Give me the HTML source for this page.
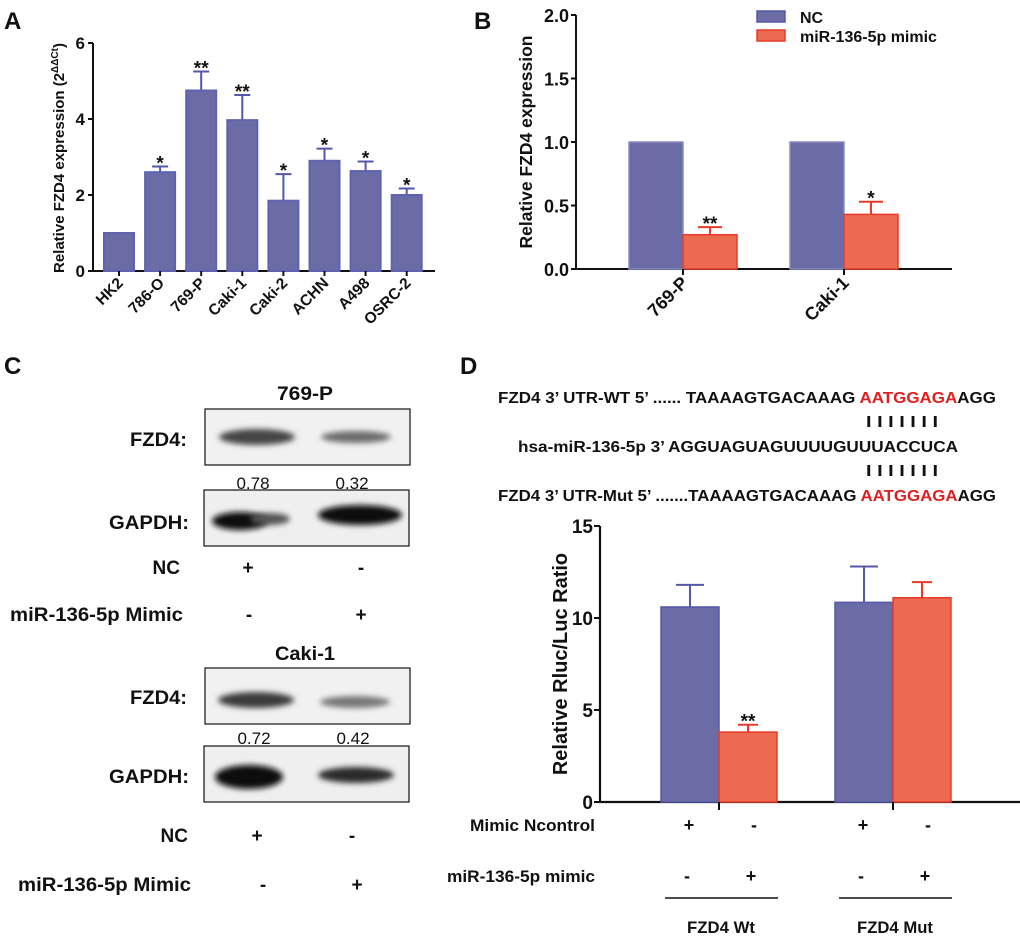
<!DOCTYPE html>
<html><head><meta charset="utf-8"><style>
html,body{margin:0;padding:0;background:#fff;}
svg{display:block;font-family:"Liberation Sans",Arial,sans-serif;}
text{font-weight:bold;fill:#111;}
</style></head><body>
<svg id="fig" width="1020" height="938" viewBox="0 0 1020 938" xmlns="http://www.w3.org/2000/svg">
<defs>
<filter id="blur" x="-50%" y="-100%" width="200%" height="300%"><feGaussianBlur stdDeviation="3"/></filter>
</defs>
<text x="4" y="29" font-size="24">A</text>
<text x="474" y="29" font-size="24">B</text>
<text x="4" y="374" font-size="24">C</text>
<text x="460" y="374" font-size="24">D</text>

<g id="panelA"></g>
<g id="panelB"></g>
<g id="panelD"></g>

<g>
<text x="305" y="400" font-size="19" text-anchor="middle" textLength="56" lengthAdjust="spacingAndGlyphs">769-P</text>
<text x="187" y="446" font-size="19" text-anchor="end" textLength="57" lengthAdjust="spacingAndGlyphs">FZD4:</text>
<rect x="205" y="409" width="205" height="56" fill="#f1f1f1" stroke="#111" stroke-width="1.2"/>
<ellipse cx="257" cy="437" rx="38" ry="8" fill="#444" filter="url(#blur)"/>
<ellipse cx="356" cy="437" rx="35" ry="6" fill="#6a6a6a" filter="url(#blur)"/>
<text x="253" y="489" font-size="17" text-anchor="middle" style="font-weight:normal">0.78</text>
<text x="352" y="489" font-size="17" text-anchor="middle" style="font-weight:normal">0.32</text>
<text x="189" y="529" font-size="19" text-anchor="end" textLength="80" lengthAdjust="spacingAndGlyphs">GAPDH:</text>
<rect x="204" y="490" width="205" height="56" fill="#efefef" stroke="#111" stroke-width="1.2"/>
<ellipse cx="240" cy="521" rx="28" ry="9" fill="#111" filter="url(#blur)"/>
<ellipse cx="270" cy="519" rx="20" ry="6" fill="#555" filter="url(#blur)"/>
<ellipse cx="360" cy="515" rx="42" ry="10" fill="#0a0a0a" filter="url(#blur)"/>
<text x="180" y="574" font-size="19" text-anchor="end">NC</text>
<text x="248" y="574" font-size="19" text-anchor="middle">+</text>
<text x="361" y="574" font-size="19" text-anchor="middle">-</text>
<text x="183" y="621" font-size="19" text-anchor="end" textLength="173" lengthAdjust="spacingAndGlyphs">miR-136-5p Mimic</text>
<text x="249" y="621" font-size="19" text-anchor="middle">-</text>
<text x="361" y="621" font-size="19" text-anchor="middle">+</text>

<text x="305" y="660" font-size="19" text-anchor="middle" textLength="60" lengthAdjust="spacingAndGlyphs">Caki-1</text>
<text x="187" y="704" font-size="19" text-anchor="end" textLength="57" lengthAdjust="spacingAndGlyphs">FZD4:</text>
<rect x="205" y="668" width="205" height="56" fill="#f1f1f1" stroke="#111" stroke-width="1.2"/>
<ellipse cx="256" cy="700" rx="38" ry="8" fill="#3a3a3a" filter="url(#blur)"/>
<ellipse cx="355" cy="702" rx="35" ry="6" fill="#777" filter="url(#blur)"/>
<text x="254" y="744" font-size="17" text-anchor="middle" style="font-weight:normal">0.72</text>
<text x="353" y="744" font-size="17" text-anchor="middle" style="font-weight:normal">0.42</text>
<text x="189" y="783" font-size="19" text-anchor="end" textLength="80" lengthAdjust="spacingAndGlyphs">GAPDH:</text>
<rect x="204" y="746" width="205" height="56" fill="#efefef" stroke="#111" stroke-width="1.2"/>
<ellipse cx="249" cy="777" rx="34" ry="12" fill="#0c0c0c" filter="url(#blur)"/>
<ellipse cx="356" cy="775" rx="38" ry="8" fill="#2a2a2a" filter="url(#blur)"/>
<text x="188" y="842" font-size="19" text-anchor="end">NC</text>
<text x="257" y="842" font-size="19" text-anchor="middle">+</text>
<text x="352" y="842" font-size="19" text-anchor="middle">-</text>
<text x="191" y="891" font-size="19" text-anchor="end" textLength="173" lengthAdjust="spacingAndGlyphs">miR-136-5p Mimic</text>
<text x="263" y="891" font-size="19" text-anchor="middle">-</text>
<text x="357" y="891" font-size="19" text-anchor="middle">+</text>
</g>

<g font-size="16">
<text x="498" y="403" textLength="498" lengthAdjust="spacingAndGlyphs">FZD4   3’ UTR-WT  5’ ...... TAAAAGTGACAAAG <tspan style="fill:#e02020">AATGGAGA</tspan>AGG</text>
<text x="866" y="427" font-size="16" textLength="72" lengthAdjust="spacingAndGlyphs">I I  I  I I  I I</text>
<text x="518" y="452" textLength="440" lengthAdjust="spacingAndGlyphs">hsa-miR-136-5p  3’    AGGUAGUAGUUUUGUUUACCUCA</text>
<text x="866" y="476" font-size="16" textLength="72" lengthAdjust="spacingAndGlyphs">I I  I  I I  I I</text>
<text x="498" y="501" textLength="498" lengthAdjust="spacingAndGlyphs">FZD4   3’ UTR-Mut 5’ .......TAAAAGTGACAAAG <tspan style="fill:#e02020">AATGGAGA</tspan>AGG</text>
</g>
</svg>
<script>
const catsA = ["HK2","786-O","769-P","Caki-1","Caki-2","ACHN","A498","OSRC-2"];
const valsA = [1.0, 2.6, 4.75, 3.97, 1.85, 2.9, 2.63, 2.0];
const errsA = [0, 0.15, 0.5, 0.66, 0.7, 0.32, 0.25, 0.17];
const sigA = ["", "*", "**", "**", "*", "*", "*", "*"];
const ticksA = [0, 2, 4, 6];
const catsB = ["769-P","Caki-1"];
const ncB = [1.0, 1.0];
const mimicB = [0.27, 0.43];
const mimicErrB = [0.06, 0.1];
const sigB = ["**","*"];
const ticksB = ["0.0","0.5","1.0","1.5","2.0"];
const groupsD = ["FZD4 Wt","FZD4 Mut"];
const ncD = [10.6, 10.85];
const ncErrD = [1.2, 1.95];
const mimicD = [3.8, 11.1];
const mimicErrD = [0.4, 0.85];
const sigD = ["**",""];
const ticksD = [0, 5, 10, 15];

const NS = "http://www.w3.org/2000/svg";
const BLUE = "#6b6ca6", BLUE_S = "#5558a8", RED = "#ec6a50", RED_S = "#e63b2a";
function mk(parent, tag, attrs, txt) {
  const e = document.createElementNS(NS, tag);
  for (const k in attrs) e.setAttribute(k, attrs[k]);
  if (txt !== undefined) e.textContent = txt;
  parent.appendChild(e);
  return e;
}
function errBar(g, cx, yTop, yErr, color, hw) {
  const l = mk(g, "path", {d: `M${cx},${yTop} V${yErr} M${cx-hw},${yErr} H${cx+hw}`, stroke: color, "stroke-width": 2, fill: "none"});
  
  
}

(function(){
  const g = document.getElementById("panelA");
  const x0 = 93, y0 = 271, yTop = 43, xEnd = 435, maxV = 6;
  const yA = v => y0 - (v / maxV) * (y0 - yTop);
  const step = 41.1, first = 119, bw = 30;
  const xA = i => first + i * step;
  mk(g, "path", {d: `M${x0},${yTop} V${y0} H${xEnd}`, stroke: "#111", "stroke-width": 2, fill: "none"});
  ticksA.forEach(t => {
    mk(g, "line", {x1: x0-5, x2: x0, y1: yA(t), y2: yA(t), stroke: "#111", "stroke-width": 2});
    const tl = mk(g, "text", {x: x0-8, y: yA(t)+6, "font-size": 17, "text-anchor": "end"}, t);
    
    
  });
  const yt = mk(g, "text", {x: 0, y: 0, "font-size": 15, "text-anchor": "middle", transform: "translate(64,158) rotate(-90)"});
  yt.innerHTML = 'Relative FZD4 expression (2<tspan dy="-6" font-size="10">ΔΔCt</tspan><tspan dy="6">)</tspan>';
  
  
  catsA.forEach((c, i) => {
    const cx = xA(i);
    if (errsA[i] > 0) errBar(g, cx, yA(valsA[i]), yA(valsA[i] + errsA[i]), BLUE_S, 8);
    const r = mk(g, "rect", {x: cx - bw/2, y: yA(valsA[i]), width: bw, height: y0 - yA(valsA[i]), fill: BLUE, stroke: "#5f62b0", "stroke-width": 2});
    
    
    mk(g, "line", {x1: cx, x2: cx, y1: y0, y2: y0+5, stroke: "#111", "stroke-width": 2});
    if (sigA[i]) {
      const s = mk(g, "text", {x: cx, y: yA(valsA[i] + errsA[i]) + 3, "font-size": 19, "text-anchor": "middle"}, sigA[i]);
      
      
    }
    const lab = mk(g, "text", {x: 0, y: 0, "font-size": 15.5, "text-anchor": "end", transform: `translate(${cx+5},${y0+13}) rotate(-45)`}, c);
    
    
  });
})();

(function(){
  const g = document.getElementById("panelB");
  const x0 = 576, y0 = 269, yTop = 15, xEnd = 952, maxV = 2;
  const yB = v => y0 - (v / maxV) * (y0 - yTop);
  const centers = [683, 844], bw = 54;
  mk(g, "path", {d: `M${x0},${yTop} V${y0} H${xEnd}`, stroke: "#111", "stroke-width": 2, fill: "none"});
  ticksB.forEach(t => {
    const v = parseFloat(t);
    mk(g, "line", {x1: x0-5, x2: x0, y1: yB(v), y2: yB(v), stroke: "#111", "stroke-width": 2});
    const tl = mk(g, "text", {x: x0-7, y: yB(v)+7, "font-size": 18, "text-anchor": "end"}, t);
    
    
  });
  const yt = mk(g, "text", {x: 0, y: 0, "font-size": 17.5, "text-anchor": "middle", transform: "translate(532,142) rotate(-90)"}, "Relative FZD4 expression");
  
  
  catsB.forEach((c, i) => {
    const cx = centers[i];
    const r1 = mk(g, "rect", {x: cx - bw, y: yB(ncB[i]), width: bw, height: y0 - yB(ncB[i]), fill: BLUE, stroke: "#8a8cc0", "stroke-width": 1.5});
    
    
    errBar(g, cx + bw/2, yB(mimicB[i]), yB(mimicB[i] + mimicErrB[i]), RED_S, 12);
    const r2 = mk(g, "rect", {x: cx, y: yB(mimicB[i]), width: bw, height: y0 - yB(mimicB[i]), fill: RED, stroke: RED_S, "stroke-width": 1.5});
    
    
    const s = mk(g, "text", {x: cx + bw/2, y: yB(mimicB[i] + mimicErrB[i]) + 3, "font-size": 19, "text-anchor": "middle"}, sigB[i]);
    
    
    mk(g, "line", {x1: cx, x2: cx, y1: y0, y2: y0+6, stroke: "#111", "stroke-width": 2});
    const lab = mk(g, "text", {x: 0, y: 0, "font-size": 18, "text-anchor": "end", transform: `translate(${cx+6},${y0+15}) rotate(-45)`}, c);
    
    
  });
  const l1 = mk(g, "rect", {x: 757, y: 11, width: 28, height: 11, fill: BLUE, stroke: BLUE_S, "stroke-width": 1.5});
  
  
  const t1 = mk(g, "text", {x: 800, y: 23, "font-size": 16}, "NC");
  
  
  const l2 = mk(g, "rect", {x: 757, y: 30, width: 28, height: 11, fill: RED, stroke: RED_S, "stroke-width": 1.5});
  
  
  const t2 = mk(g, "text", {x: 800, y: 42, "font-size": 16}, "miR-136-5p mimic");
  
  
})();

(function(){
  const g = document.getElementById("panelD");
  const x0 = 600, y0 = 802, yTop = 526, xEnd = 1020, maxV = 15;
  const yD = v => y0 - (v / maxV) * (y0 - yTop);
  const centers = [719, 893], bw = 58;
  mk(g, "path", {d: `M${x0},${yTop} V${y0} H${xEnd}`, stroke: "#111", "stroke-width": 2.2, fill: "none"});
  ticksD.forEach(t => {
    mk(g, "line", {x1: x0-6, x2: x0, y1: yD(t), y2: yD(t), stroke: "#111", "stroke-width": 2});
    const tl = mk(g, "text", {x: x0-7, y: yD(t)+7, "font-size": 19, "text-anchor": "end"}, t);
    
    
  });
  const yt = mk(g, "text", {x: 0, y: 0, "font-size": 20, "text-anchor": "middle", transform: "translate(567,664) rotate(-90)"}, "Relative Rluc/Luc Ratio");
  
  
  groupsD.forEach((c, i) => {
    const cx = centers[i];
    errBar(g, cx - bw/2, yD(ncD[i]), yD(ncD[i] + ncErrD[i]), BLUE_S, 14);
    const r1 = mk(g, "rect", {x: cx - bw, y: yD(ncD[i]), width: bw, height: y0 - yD(ncD[i]), fill: BLUE, stroke: BLUE_S, "stroke-width": 1.5});
    
    
    errBar(g, cx + bw/2, yD(mimicD[i]), yD(mimicD[i] + mimicErrD[i]), RED_S, 10);
    const r2 = mk(g, "rect", {x: cx, y: yD(mimicD[i]), width: bw, height: y0 - yD(mimicD[i]), fill: RED, stroke: RED_S, "stroke-width": 1.5});
    
    
    if (sigD[i]) {
      const s = mk(g, "text", {x: cx + bw/2, y: yD(mimicD[i] + mimicErrD[i]) + 3, "font-size": 19, "text-anchor": "middle"}, sigD[i]);
      
      
    }
    mk(g, "line", {x1: cx, x2: cx, y1: y0, y2: y0+8, stroke: "#111", "stroke-width": 2});
    mk(g, "text", {x: cx - 30, y: 831, "font-size": 18, "text-anchor": "middle"}, "+");
    mk(g, "text", {x: cx + 35, y: 831, "font-size": 18, "text-anchor": "middle"}, "-");
    mk(g, "text", {x: cx - 32, y: 882, "font-size": 18, "text-anchor": "middle"}, "-");
    mk(g, "text", {x: cx + 32, y: 882, "font-size": 18, "text-anchor": "middle"}, "+");
    const ul = mk(g, "line", {x1: cx - 54, x2: cx + 59, y1: 898, y2: 898, stroke: "#111", "stroke-width": 1.5});
    
    
    const gl = mk(g, "text", {x: cx + 2, y: 933, "font-size": 17, "text-anchor": "middle", textLength: i ? 76 : 68, lengthAdjust: "spacingAndGlyphs"}, c);
    
    
  });
  const r1 = mk(g, "text", {x: 595, y: 831, "font-size": 17, "text-anchor": "end", textLength: 125, lengthAdjust: "spacingAndGlyphs"}, "Mimic Ncontrol");
  
  
  const r2 = mk(g, "text", {x: 595, y: 882, "font-size": 17, "text-anchor": "end", textLength: 148, lengthAdjust: "spacingAndGlyphs"}, "miR-136-5p mimic");
  
  
})();
</script>
</body></html>
